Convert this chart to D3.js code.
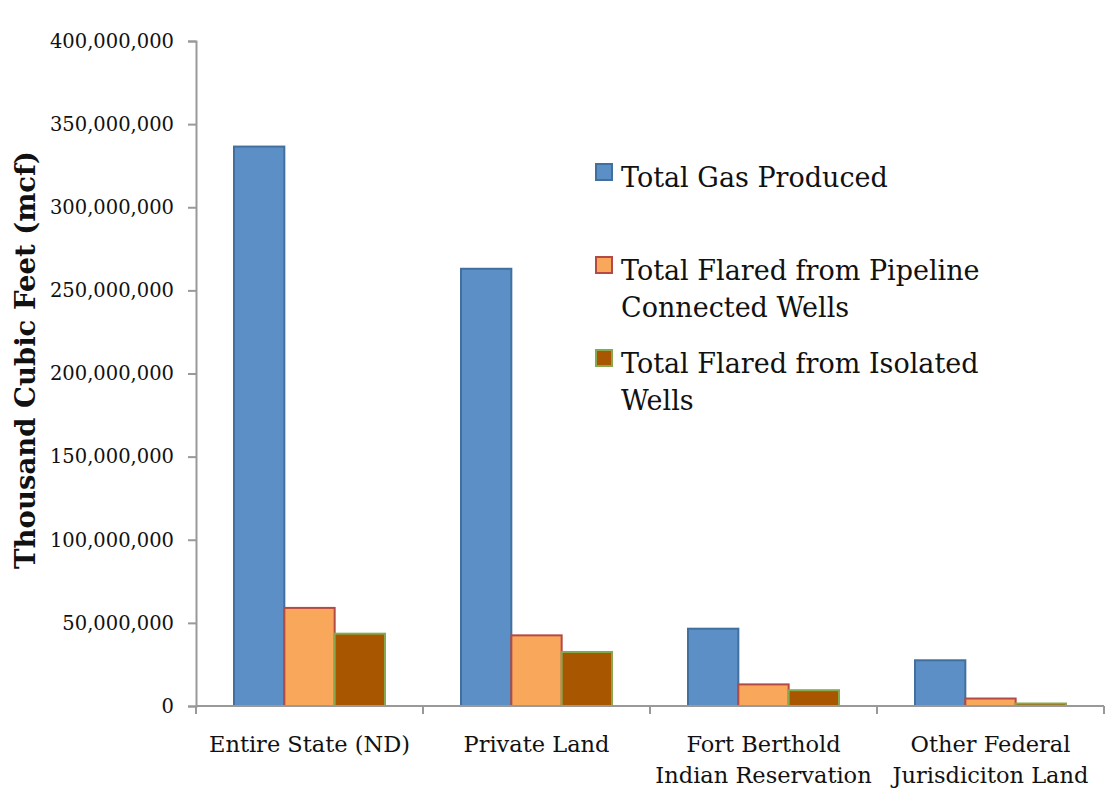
<!DOCTYPE html>
<html>
<head>
<meta charset="utf-8">
<script src="https://cdn.jsdelivr.net/npm/d3@7"></script>
<style>
  body { margin: 0; background: #fff; }
  svg { font-family: "DejaVu Serif", serif; }
</style>
</head>
<body>
<div id="chart"></div>
<script>
const categories = [
    ["Entire State (ND)"],
    ["Private Land"],
    ["Fort Berthold", "Indian Reservation"],
    ["Other Federal", "Jurisdiciton Land"]
];
const seriesNames = ["Total Gas Produced", "Total Flared from Pipeline Connected Wells", "Total Flared from Isolated Wells"];
const legendLines = [["Total Gas Produced"], ["Total Flared from Pipeline", "Connected Wells"], ["Total Flared from Isolated", "Wells"]];
const totalGas = [336500000, 263000000, 46500000, 27500000];
const flaredPipeline = [59000000, 42500000, 13000000, 4500000];
const flaredIsolated = [43500000, 32500000, 9500000, 1500000];
const yTicks = [0, 50000000, 100000000, 150000000, 200000000, 250000000, 300000000, 350000000, 400000000];

const fills = ["#5b8fc6", "#f9a75a", "#a85600"];
const strokes = ["#41709f", "#b34a45", "#86a94f"];

const width = 1118, height = 792;
const mLeft = 196, mRight = 1104, mTop = 41, mBottom = 706;

const svg = d3.select("#chart").append("svg")
    .attr("width", width)
    .attr("height", height);

const x0 = d3.scaleBand().domain(d3.range(categories.length)).range([mLeft, mRight]).paddingInner(0).paddingOuter(0);
const x1 = d3.scaleBand().domain([0, 1, 2]).range([38, x0.bandwidth() - 38]);
const y = d3.scaleLinear().domain([0, 400000000]).range([mBottom, mTop]);

const values = [totalGas, flaredPipeline, flaredIsolated];
const rows = categories.map((c, i) => values.map((v, s) => ({cat: i, s: s, v: v[i]})));

// y axis
const yAxis = svg.append("g")
    .attr("transform", `translate(${mLeft},0)`)
    .call(d3.axisLeft(y).tickValues(yTicks).tickSize(8).tickPadding(14).tickFormat(d3.format(",")));
yAxis.select(".domain").attr("stroke", "#999").attr("stroke-width", 2);
yAxis.selectAll(".tick line").attr("stroke", "#999").attr("stroke-width", 2);
yAxis.selectAll("text").attr("font-size", 19.5).attr("fill", "#111").attr("font-family", "DejaVu Serif");

// bars
const groups = svg.selectAll("g.cat")
    .data(rows).enter()
    .append("g")
    .attr("class", "cat")
    .attr("transform", (d, i) => `translate(${x0(i)},0)`);

groups.selectAll("rect")
    .data(d => d).enter()
    .append("rect")
    .attr("x", d => x1(d.s))
    .attr("y", d => y(d.v))
    .attr("width", x1.bandwidth())
    .attr("height", d => y(0) - y(d.v))
    .attr("fill", d => fills[d.s])
    .attr("stroke", d => strokes[d.s])
    .attr("stroke-width", 2);

// x axis
const xAxis = svg.append("g").attr("transform", `translate(0,${mBottom})`);
xAxis.append("line").attr("x1", mLeft).attr("x2", mRight).attr("stroke", "#999").attr("stroke-width", 2);
xAxis.selectAll("line.tk")
    .data(d3.range(categories.length + 1)).enter()
    .append("line")
    .attr("class", "tk")
    .attr("x1", d => mLeft + d * x0.bandwidth())
    .attr("x2", d => mLeft + d * x0.bandwidth())
    .attr("y1", 0).attr("y2", 8)
    .attr("stroke", "#999").attr("stroke-width", 2);

const labels = xAxis.selectAll("text")
    .data(categories).enter()
    .append("text")
    .attr("text-anchor", "middle")
    .attr("font-size", 22.5)
    .attr("fill", "#111")
    .attr("x", (d, i) => x0(i) + x0.bandwidth() / 2);
labels.selectAll("tspan")
    .data(d => d).enter()
    .append("tspan")
    .attr("x", function() { return d3.select(this.parentNode).attr("x"); })
    .attr("y", (d, i) => 46 + i * 31)
    .text(d => d);

// y title
svg.append("text")
    .attr("transform", "translate(35,360) rotate(-90)")
    .attr("text-anchor", "middle")
    .attr("font-size", 27.5)
    .attr("font-weight", "bold")
    .attr("fill", "#111")
    .text("Thousand Cubic Feet (mcf)");

// legend
const legendY = [164, 257, 350];
const legend = svg.selectAll("g.leg")
    .data(seriesNames).enter()
    .append("g")
    .attr("class", "leg")
    .attr("transform", (d, i) => `translate(596,${legendY[i]})`);
legend.append("rect")
    .attr("width", 16).attr("height", 16)
    .attr("fill", (d, i) => fills[i])
    .attr("stroke", (d, i) => strokes[i])
    .attr("stroke-width", 2);
legend.append("text")
    .attr("font-size", 27)
    .attr("fill", "#111")
    .selectAll("tspan")
    .data((d, i) => legendLines[i]).enter()
    .append("tspan")
    .attr("x", 25)
    .attr("y", (d, i) => 23 + i * 37)
    .text(d => d);
</script>
</body>
</html>
